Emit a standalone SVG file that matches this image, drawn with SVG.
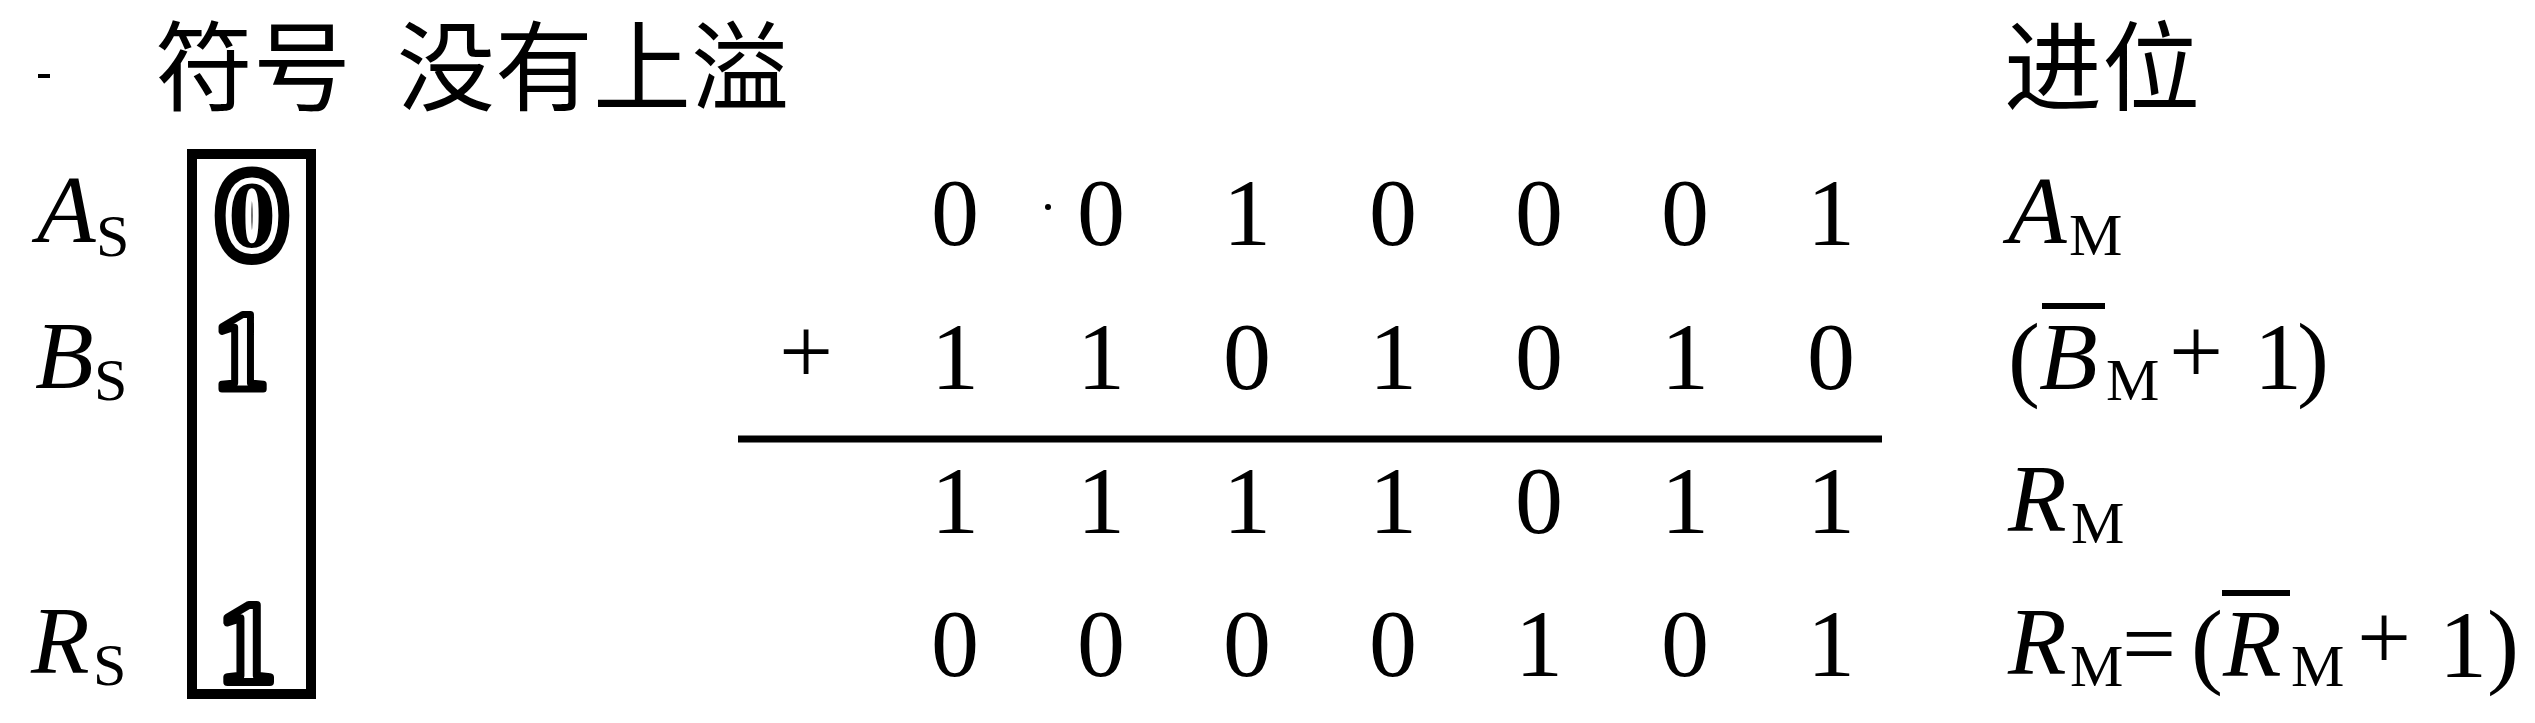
<svg xmlns="http://www.w3.org/2000/svg" width="2535" height="723" viewBox="0 0 2535 723">
<style>
.cjk{font-family:"Noto Sans CJK SC","Noto Sans CJK JP",sans-serif;font-size:98px;fill:#000}
.t{font-family:"Liberation Serif","Times New Roman",serif;font-size:96px;fill:#000}
.i{font-style:italic}
.sub{font-family:"Liberation Serif","Times New Roman",serif;font-size:60px;fill:#000}
.d{font-family:"Liberation Serif","Times New Roman",serif;font-size:96px;fill:#000;text-anchor:middle}
.bx{font-family:"Liberation Serif","Times New Roman",serif;font-weight:bold;text-anchor:middle}
.bar{stroke:#000;stroke-width:6;fill:none}
</style>
<rect width="2535" height="723" fill="#fff"/>
<g id="title">
<text class="cjk" x="155" y="103">符号</text>
<text class="cjk" x="397" y="103">没有上溢</text>
<text class="cjk" x="2004" y="103">进位</text>
</g>
<g id="sign-labels">
<text class="t i" x="37" y="242">A</text><text class="sub" x="96" y="256">S</text>
<text class="t i" x="35" y="388">B</text><text class="sub" x="94" y="400">S</text>
<text class="t i" x="31" y="673">R</text><text class="sub" x="93" y="685">S</text>
</g>
<g id="sign-box">
<rect x="192" y="154" width="119" height="540" fill="none" stroke="#000" stroke-width="10"/>
<text class="bx" x="252" y="247" font-size="96" stroke="#000" stroke-width="34" stroke-linejoin="round">0</text>
<text class="bx" x="252" y="247" font-size="96" fill="none" stroke="#fff" stroke-width="12" stroke-linejoin="round">0</text>
<text class="bx" x="252" y="247" font-size="96">0</text>
<text class="bx" x="241" y="389" font-size="112" fill="#fff" stroke="#000" stroke-width="7" stroke-linejoin="round">1</text>
<text class="bx" x="247" y="682" font-size="116" fill="#fff" stroke="#000" stroke-width="8" stroke-linejoin="round">1</text>
</g>
<g id="operand-a">
<text class="d" y="245"><tspan x="955">0</tspan><tspan x="1101">0</tspan><tspan x="1247">1</tspan><tspan x="1393">0</tspan><tspan x="1539">0</tspan><tspan x="1685">0</tspan><tspan x="1831">1</tspan></text>
</g>
<g id="operand-b">
<text class="d" x="806" y="383">+</text>
<text class="d" y="389"><tspan x="955">1</tspan><tspan x="1101">1</tspan><tspan x="1247">0</tspan><tspan x="1393">1</tspan><tspan x="1539">0</tspan><tspan x="1685">1</tspan><tspan x="1831">0</tspan></text>
</g>
<g id="connectors">
<line x1="738" y1="439" x2="1882" y2="439" stroke="#000" stroke-width="7"/>
</g>
<g id="result-raw">
<text class="d" y="533"><tspan x="955">1</tspan><tspan x="1101">1</tspan><tspan x="1247">1</tspan><tspan x="1393">1</tspan><tspan x="1539">0</tspan><tspan x="1685">1</tspan><tspan x="1831">1</tspan></text>
</g>
<g id="result-final">
<text class="d" y="676"><tspan x="955">0</tspan><tspan x="1101">0</tspan><tspan x="1247">0</tspan><tspan x="1393">0</tspan><tspan x="1539">1</tspan><tspan x="1685">0</tspan><tspan x="1831">1</tspan></text>
</g>
<g id="label-am">
<text class="t i" x="2008" y="243">A</text><text class="sub" x="2069" y="255">M</text>
</g>
<g id="label-bm">
<text class="t" x="2008" y="389">(</text>
<text class="t i" x="2039" y="389">B</text>
<line class="bar" x1="2042" y1="306" x2="2105" y2="306"/>
<text class="sub" x="2106" y="400">M</text>
<text class="d" x="2196" y="383">+</text>
<text class="t" x="2254" y="389">1</text>
<text class="t" x="2297" y="389">)</text>
</g>
<g id="label-rm">
<text class="t i" x="2008" y="531">R</text><text class="sub" x="2071" y="543">M</text>
</g>
<g id="label-rm-final">
<text class="t i" x="2008" y="674">R</text><text class="sub" x="2070" y="686">M</text>
<text class="t" x="2122" y="676">=</text>
<text class="t" x="2191" y="676">(</text>
<text class="t i" x="2223" y="676">R</text>
<line class="bar" x1="2222" y1="593" x2="2290" y2="593"/>
<text class="sub" x="2291" y="686">M</text>
<text class="d" x="2384" y="669">+</text>
<text class="t" x="2439" y="677">1</text>
<text class="t" x="2487" y="676">)</text>
</g>
<g id="specks" fill="#000">
<rect x="38" y="74" width="12" height="4"/>
<circle cx="1048" cy="207" r="3"/>
</g>
</svg>
